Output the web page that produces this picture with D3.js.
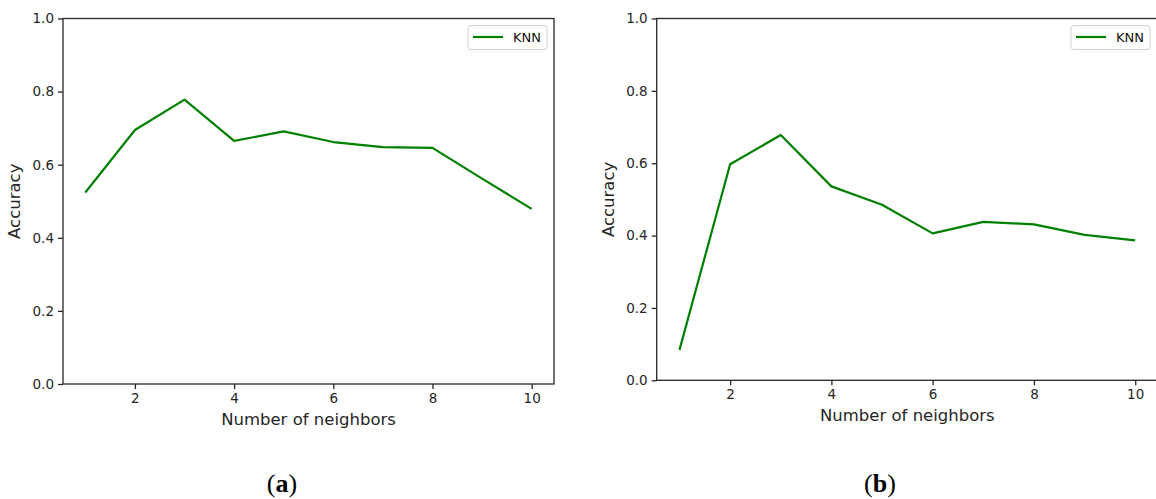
<!DOCTYPE html>
<html><head><meta charset="utf-8">
<script src="https://cdn.jsdelivr.net/npm/d3@7"></script>
<style>body{margin:0;background:#fff}svg{display:block}</style>
</head><body>
<svg id="c" width="1156" height="499"></svg>
<script>
const neighbors = [1,2,3,4,5,6,7,8,9,10];
const accA = [0.524,0.695,0.778,0.665,0.691,0.662,0.648,0.646,0.562,0.479];
const accB = [0.084,0.597,0.678,0.536,0.485,0.406,0.438,0.431,0.402,0.387];
const xTicks = [2,4,6,8,10];
const yTicks = [0,0.2,0.4,0.6,0.8,1.0];
const seriesName = "KNN";
const captions = ["a","b"];

const svg = d3.select("#c");
const font = "DejaVu Sans, sans-serif";
const axisColor = "#262626";

function panel(cfg, data, cap) {
  const g = svg.append("g");
  const x = d3.scaleLinear().domain([0.55,10.45]).range([cfg.left, cfg.right]);
  const y = d3.scaleLinear().domain([0,1]).range([cfg.bottom, cfg.top]);
  g.append("rect").attr("x",cfg.left).attr("y",cfg.top)
    .attr("width",cfg.right-cfg.left).attr("height",cfg.bottom-cfg.top)
    .attr("fill","none").attr("stroke",axisColor).attr("stroke-width",1.3);
  const xa = g.append("g").attr("transform",`translate(0,${cfg.bottom})`)
    .call(d3.axisBottom(x).tickValues(xTicks).tickFormat(d3.format("d")).tickSize(5).tickPadding(4));
  const ya = g.append("g").attr("transform",`translate(${cfg.left},0)`)
    .call(d3.axisLeft(y).tickValues(yTicks).tickFormat(d3.format(".1f")).tickSize(5).tickPadding(4));
  [xa,ya].forEach(a=>{
    a.select(".domain").remove();
    a.selectAll("line").attr("stroke",axisColor).attr("stroke-width",1.3);
    a.selectAll("text").attr("fill",axisColor).style("font-family",font).style("font-size","13.5px");
  });
  const line = d3.line().x((d,i)=>x(neighbors[i])).y(d=>y(d));
  g.append("path").datum(data).attr("d",line).attr("fill","none")
    .attr("stroke","#008000").attr("stroke-width",2.2).attr("stroke-linejoin","round");
  g.append("text").attr("x",(cfg.left+cfg.right)/2).attr("y",cfg.bottom+41)
    .attr("text-anchor","middle").style("font-family",font).style("font-size","16.5px")
    .attr("fill",axisColor).text("Number of neighbors");
  g.append("text").attr("transform",`translate(${cfg.left-43},${(cfg.top+cfg.bottom)/2}) rotate(-90)`)
    .attr("text-anchor","middle").style("font-family",font).style("font-size","16.5px")
    .attr("fill",axisColor).text("Accuracy");
  const lg = g.append("g").attr("transform",`translate(${cfg.legX},${cfg.top+7})`);
  lg.append("rect").attr("x",0).attr("y",0).attr("width",79).attr("height",24).attr("rx",3)
    .attr("fill","#fff").attr("stroke","#d0d0d0").attr("stroke-width",1);
  lg.append("line").attr("x1",5).attr("x2",35).attr("y1",11.5).attr("y2",11.5)
    .attr("stroke","#008000").attr("stroke-width",2.2);
  lg.append("text").attr("x",45).attr("y",16.5).style("font-family",font).style("font-size","13px")
    .attr("fill","#111").text(seriesName);
  const t = svg.append("text").attr("x",cfg.capX).attr("y",492).attr("text-anchor","middle")
    .style("font-family","Liberation Serif, DejaVu Serif, serif").style("font-size","26px").attr("fill","#000");
  t.append("tspan").text("(");
  t.append("tspan").attr("font-weight","bold").text(cap);
  t.append("tspan").text(")");
}

panel({left:63,right:554,top:18.5,bottom:384,legX:468,capX:282}, accA, captions[0]);
panel({left:656.7,right:1158,top:18.5,bottom:380.3,legX:1071,capX:880}, accB, captions[1]);
</script>
</body></html>
